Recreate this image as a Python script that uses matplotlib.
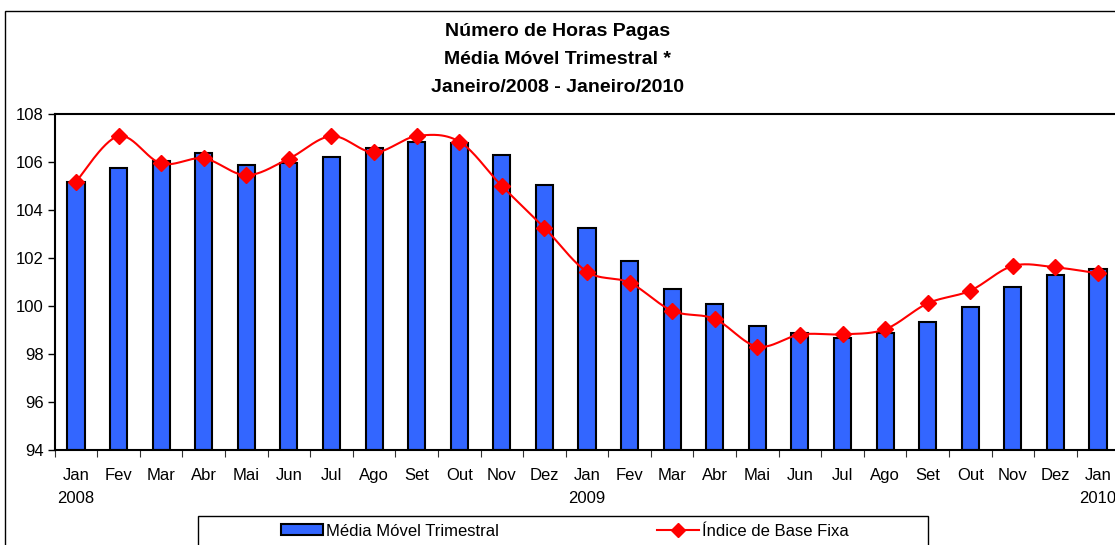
import numpy as np
import matplotlib
matplotlib.use("Agg")
import matplotlib.pyplot as plt
from matplotlib.patches import Rectangle, Patch
from matplotlib.lines import Line2D

plt.rcParams['font.family'] = ['Liberation Sans', 'DejaVu Sans']

months = ["Jan", "Fev", "Mar", "Abr", "Mai", "Jun", "Jul", "Ago", "Set", "Out", "Nov", "Dez",
          "Jan", "Fev", "Mar", "Abr", "Mai", "Jun", "Jul", "Ago", "Set", "Out", "Nov", "Dez", "Jan"]
years = {0: "2008", 12: "2009", 24: "2010"}
media_movel = [105.18, 105.74, 106.05, 106.39, 105.86, 105.94, 106.22, 106.57, 106.85, 106.81,
               106.30, 105.03, 103.24, 101.88, 100.72, 100.10, 99.18, 98.86, 98.65, 98.89,
               99.33, 99.94, 100.79, 101.30, 101.53]
indice_base_fixa = [105.18, 107.08, 105.94, 106.15, 105.45, 106.14, 107.08, 106.40, 107.08, 106.85,
                    105.00, 103.26, 101.43, 100.97, 99.80, 99.46, 98.31, 98.81, 98.82, 99.03,
                    100.11, 100.64, 101.67, 101.61, 101.36]


def smooth_curve(x, y, n=30):
    """Excel-style smoothed line (cubic Bezier through the points)."""
    x = np.asarray(x, float)
    y = np.asarray(y, float)
    px = np.concatenate([[x[0]], x, [x[-1]]])
    py = np.concatenate([[y[0]], y, [y[-1]]])
    xs, ys = [], []
    t = np.linspace(0, 1, n)
    for i in range(1, len(px) - 2):
        p0 = np.array([px[i - 1], py[i - 1]])
        p1 = np.array([px[i], py[i]])
        p2 = np.array([px[i + 1], py[i + 1]])
        p3 = np.array([px[i + 2], py[i + 2]])
        c1 = p1 + (p2 - p0) / 6.0
        c2 = p2 - (p3 - p1) / 6.0
        b = ((1 - t) ** 3)[:, None] * p1 + (3 * (1 - t) ** 2 * t)[:, None] * c1 \
            + (3 * (1 - t) * t ** 2)[:, None] * c2 + (t ** 3)[:, None] * p2
        xs.append(b[:, 0])
        ys.append(b[:, 1])
    return np.concatenate(xs), np.concatenate(ys)


W, H = 1115, 545
FS = 12
fig = plt.figure(figsize=(W / 100, H / 100), dpi=100)
fig.patch.set_facecolor("white")

# chart area border (extends past right/bottom edges)
fig.patches.append(Rectangle((5 / W, -0.2), 1.2, 1 - 11 / H + 0.2, transform=fig.transFigure,
                             fill=False, edgecolor="black", linewidth=1.0, zorder=0))

left_px, right_px = 54.7, 1119.3
top_px, bot_px = 114, 450
ax = fig.add_axes([left_px / W, 1 - bot_px / H, (right_px - left_px) / W, (bot_px - top_px) / H])

x = np.arange(len(months))
ax.bar(x, np.array(media_movel) - 94, bottom=94, width=0.4, color="#3366FF",
       edgecolor="black", linewidth=1.5, zorder=2)
sx, sy = smooth_curve(x, indice_base_fixa)
ax.plot(sx, sy, color="red", linewidth=1.5, zorder=3)
ax.plot(x, indice_base_fixa, linestyle="none", marker="D", markersize=8, color="red",
        markeredgecolor="red", zorder=4)

ax.set_xlim(-0.5, len(months) - 0.5)
ax.set_ylim(94, 108)
ax.set_yticks(np.arange(94, 109, 2))
ax.tick_params(axis="y", direction="out", length=5, width=1, labelsize=FS, pad=3)
ax.set_xticks(np.arange(-0.5, len(months), 1.0))
ax.set_xticklabels([])
ax.tick_params(axis="x", direction="out", length=5, width=0.8, color="#333333")
for i, m in enumerate(months):
    ax.text(i, -0.076, m, transform=ax.get_xaxis_transform(), ha="center", va="center",
            fontsize=FS)
    if i in years:
        ax.text(i, -0.144, years[i], transform=ax.get_xaxis_transform(), ha="center",
                va="center", fontsize=FS)
for s in ax.spines.values():
    s.set_linewidth(1.5)
    s.set_color("black")

fig.text(0.5, 1 - 32 / H, "Número de Horas Pagas", ha="center", va="center",
         fontsize=14, fontweight="bold")
fig.text(0.5, 1 - 60 / H, "Média Móvel Trimestral *", ha="center", va="center",
         fontsize=14, fontweight="bold")
fig.text(0.5, 1 - 88 / H, "Janeiro/2008 - Janeiro/2010", ha="center", va="center",
         fontsize=14, fontweight="bold")

# legend
fig.patches.append(Rectangle((198 / W, -0.1), 730 / W, 0.1 + (1 - 516 / H),
                             transform=fig.transFigure, fill=False, edgecolor="black",
                             linewidth=1.0, zorder=5))
h1 = Patch(facecolor="#3366FF", edgecolor="black", linewidth=1.5)
h2 = Line2D([], [], color="red", linewidth=1.5, marker="D", markersize=7)
fig.legend([h1, h2], ["Média Móvel Trimestral", "Índice de Base Fixa"], ncol=2,
           loc="center", bbox_to_anchor=(565 / W, 1 - 531 / H), frameon=False,
           fontsize=FS, handlelength=2.5, handletextpad=0.2, columnspacing=9.5,
           handleheight=0.65)

fig.savefig("out.png", dpi=100, facecolor="white")
